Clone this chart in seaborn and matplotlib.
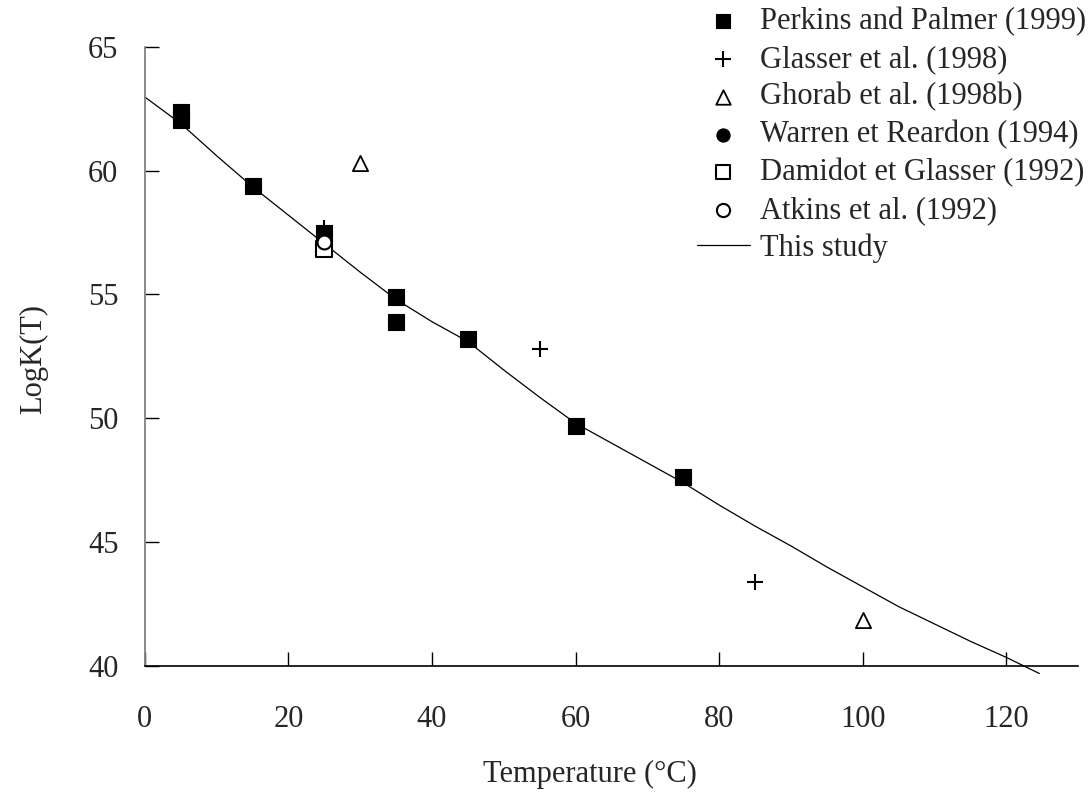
import matplotlib
matplotlib.use("Agg")
import matplotlib.pyplot as plt
import seaborn as sns

# ---- data ----
perkins_T = [5, 5, 15, 25, 35, 35, 45, 60, 75]
perkins_K = [62.37, 62.03, 59.36, 57.5, 54.9, 53.9, 53.2, 49.68, 47.65]

glasser_T = [25, 55, 85]
glasser_K = [57.7, 52.8, 43.4]

ghorab_T = [30, 100]
ghorab_K = [60.3, 41.85]

warren_T = [25]
warren_K = [57.3]

damidot_T = [25]
damidot_K = [56.84]

atkins_T = [25]
atkins_K = [57.1]

study_T = [0, 5, 10, 15, 20, 25, 30, 35, 40, 45, 50, 55, 60, 65, 70, 75, 80,
           85, 90, 95, 100, 105, 110, 115, 120, 124.6]
study_K = [62.97, 61.9, 60.6, 59.35, 58.2, 57.05, 55.9, 54.8, 53.9, 53.1, 51.95,
           50.85, 49.8, 49.0, 48.2, 47.4, 46.5, 45.65, 44.85, 44.0, 43.2, 42.4,
           41.7, 41.0, 40.35, 39.7]

x_ticks = [0, 20, 40, 60, 80, 100, 120]
y_ticks = [40, 45, 50, 55, 60, 65]

sns.set_theme(style="white")
plt.rcParams['font.family'] = ['Liberation Serif', 'DejaVu Serif']

fig = plt.figure(figsize=(10.89, 7.92), dpi=100)
ax = fig.add_axes([0.133, 0.159, 0.857, 0.782])

FS = 22

# curve
sns.lineplot(x=study_T, y=study_K, ax=ax, color='black', linewidth=0.9,
             label='This study', zorder=1, clip_on=False, sort=False)

sns.scatterplot(x=damidot_T, y=damidot_K, marker='s', facecolor='white',
                edgecolor='black', linewidth=1.5, label='Damidot et Glasser (1992)',
                ax=ax, s=125, zorder=3, clip_on=False)
sns.scatterplot(x=perkins_T, y=perkins_K, marker='s', color='black',
                edgecolor='black', linewidth=0.8, label='Perkins and Palmer (1999)',
                ax=ax, s=125, zorder=3, clip_on=False)
sns.scatterplot(x=glasser_T, y=glasser_K, marker='+', color='black',
                linewidth=1.5, label='Glasser et al. (1998)', ax=ax, s=140, zorder=4, clip_on=False)
sns.scatterplot(x=ghorab_T, y=ghorab_K, marker='^', facecolor='white',
                edgecolor='black', linewidth=1.3, label='Ghorab et al. (1998b)', ax=ax, s=120,
                zorder=3, clip_on=False)
sns.scatterplot(x=warren_T, y=warren_K, marker='o', color='black',
                edgecolor='black', label='Warren et Reardon (1994)', ax=ax, s=100, zorder=3,
                clip_on=False)
sns.scatterplot(x=atkins_T, y=atkins_K, marker='o', facecolor='white',
                edgecolor='black', linewidth=1.5, label='Atkins et al. (1992)', ax=ax, s=100,
                zorder=5, clip_on=False)

ax.set_xlim(0, 130)
ax.set_ylim(40, 65)
ax.set_xticks(x_ticks)
ax.set_yticks(y_ticks)
ax.set_xticklabels([str(v) for v in x_ticks], fontsize=FS)
ax.set_yticklabels([str(v) for v in y_ticks], fontsize=FS)
ax.tick_params(axis='x', bottom=True, direction='in', length=10, width=1,
               color='black', pad=28)
ax.tick_params(axis='y', left=True, direction='in', length=10, width=1,
               color='black', pad=19)

for s in ['top', 'right']:
    ax.spines[s].set_visible(False)
ax.spines['left'].set_color('#808080')
ax.spines['left'].set_linewidth(1.3)
ax.spines['bottom'].set_color('black')
ax.spines['bottom'].set_linewidth(1.2)

ax.set_xlabel('Temperature (°C)', fontsize=FS)
ax.set_ylabel('LogK(T)', fontsize=FS)
ax.xaxis.set_label_coords(0.477, -0.152)
ax.yaxis.set_label_coords(-0.104, 0.495)

# legend
handles, labels = ax.get_legend_handles_labels()
order = ['Perkins and Palmer (1999)', 'Glasser et al. (1998)', 'Ghorab et al. (1998b)',
         'Warren et Reardon (1994)', 'Damidot et Glasser (1992)', 'Atkins et al. (1992)',
         'This study']
hmap = dict(zip(labels, handles))
if ax.legend_ is not None:
    ax.legend_.remove()
fig.legend([hmap[l] for l in order], order, loc='upper left',
           bbox_to_anchor=(0.637, 0.995), frameon=False, fontsize=FS,
           labelspacing=0.28, handlelength=1.73, handletextpad=0.33,
           borderpad=0.1, borderaxespad=0, markerscale=0.95)

fig.savefig('out.png', dpi=100)
